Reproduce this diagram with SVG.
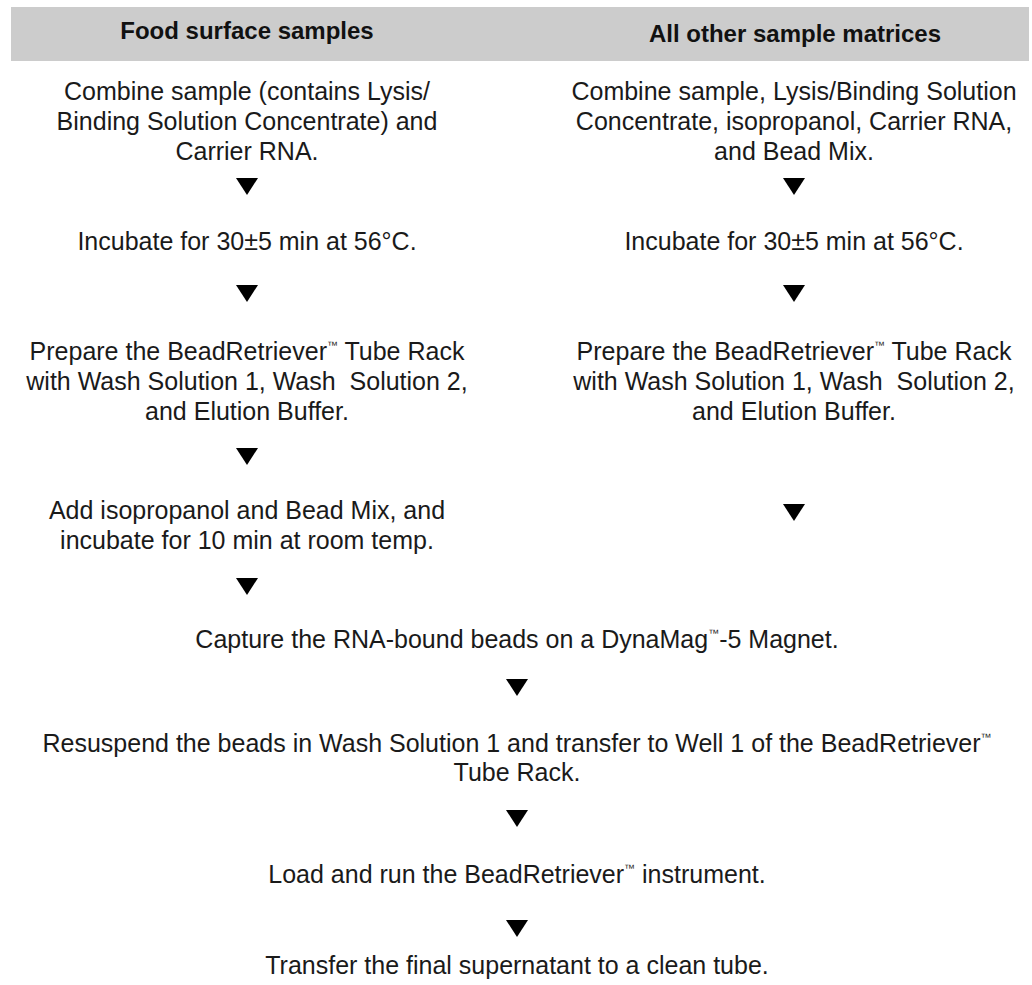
<svg xmlns="http://www.w3.org/2000/svg" width="1032" height="985" viewBox="0 0 1032 985">
<style>
.t{font-family:"Liberation Sans",Arial,sans-serif;font-size:25px;fill:#1a1a1a;text-anchor:middle;white-space:pre}
.h{font-family:"Liberation Sans",Arial,sans-serif;font-size:24px;font-weight:bold;fill:#111;text-anchor:middle}
.tm{font-size:11px}
.a{fill:#000}
</style>
<defs>
<path id="tri" d="M-11,0 L11,0 L0,17 Z"/>
</defs>
<rect x="0" y="0" width="1032" height="985" fill="#fff"/>
<g id="header">
<rect x="11" y="7" width="1018" height="54" fill="#cccccc"/>
<text class="h" x="247" y="39">Food surface samples</text>
<text class="h" x="795" y="42">All other sample matrices</text>
</g>
<g id="L1"><text class="t" x="247" y="100">Combine sample (contains Lysis/</text><text class="t" x="247" y="130">Binding Solution Concentrate) and</text><text class="t" x="247" y="160">Carrier RNA.</text></g>
<g id="L2"><text class="t" x="247" y="250">Incubate for 30±5 min at 56°C.</text></g>
<g id="L3"><text class="t" x="247" y="360">Prepare the BeadRetriever<tspan class="tm" dy="-11">™</tspan><tspan dy="11"> Tube Rack</tspan></text><text class="t" x="247" y="390" xml:space="preserve">with Wash Solution 1, Wash  Solution 2,</text><text class="t" x="247" y="420">and Elution Buffer.</text></g>
<g id="L4"><text class="t" x="247" y="519">Add isopropanol and Bead Mix, and</text><text class="t" x="247" y="549">incubate for 10 min at room temp.</text></g>
<g id="R1"><text class="t" x="794" y="100">Combine sample, Lysis/Binding Solution</text><text class="t" x="794" y="130">Concentrate, isopropanol, Carrier RNA,</text><text class="t" x="794" y="160">and Bead Mix.</text></g>
<g id="R2"><text class="t" x="794" y="250">Incubate for 30±5 min at 56°C.</text></g>
<g id="R3"><text class="t" x="794" y="360">Prepare the BeadRetriever<tspan class="tm" dy="-11">™</tspan><tspan dy="11"> Tube Rack</tspan></text><text class="t" x="794" y="390" xml:space="preserve">with Wash Solution 1, Wash  Solution 2,</text><text class="t" x="794" y="420">and Elution Buffer.</text></g>
<g id="C1"><text class="t" x="517" y="648">Capture the RNA-bound beads on a DynaMag<tspan class="tm" dy="-11">™</tspan><tspan dy="11">-5 Magnet.</tspan></text></g>
<g id="C2"><text class="t" x="517" y="752">Resuspend the beads in Wash Solution 1 and transfer to Well 1 of the BeadRetriever<tspan class="tm" dy="-11">™</tspan></text><text class="t" x="517" y="781">Tube Rack.</text></g>
<g id="C3"><text class="t" x="517" y="883">Load and run the BeadRetriever<tspan class="tm" dy="-11">™</tspan><tspan dy="11"> instrument.</tspan></text></g>
<g id="C4"><text class="t" x="517" y="974">Transfer the final supernatant to a clean tube.</text></g>
<g id="connectors" class="a">
<use href="#tri" x="247" y="178"/>
<use href="#tri" x="247" y="285"/>
<use href="#tri" x="247" y="448"/>
<use href="#tri" x="247" y="578"/>
<use href="#tri" x="794" y="178"/>
<use href="#tri" x="794" y="285"/>
<use href="#tri" x="794" y="504"/>
<use href="#tri" x="517" y="679"/>
<use href="#tri" x="517" y="810"/>
<use href="#tri" x="517" y="920"/>
</g>
</svg>
